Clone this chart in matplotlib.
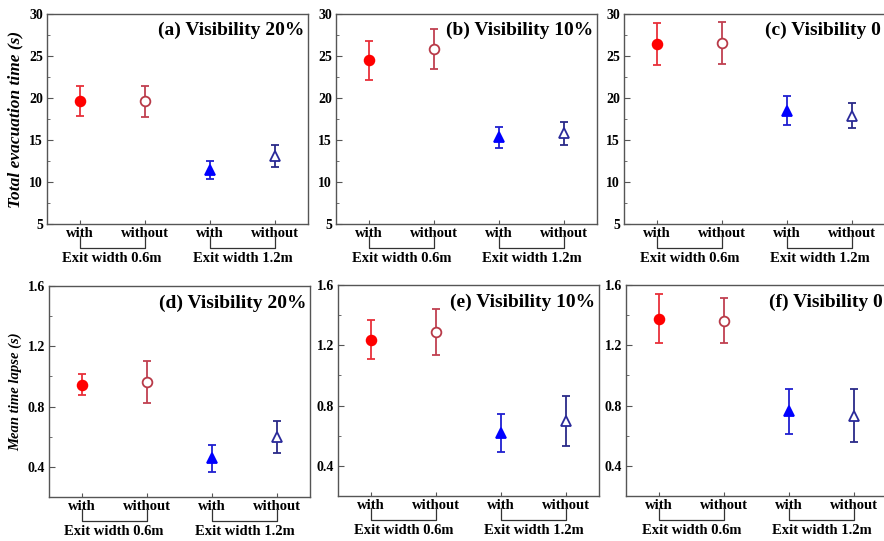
import matplotlib
matplotlib.use("Agg")
import matplotlib.pyplot as plt
from matplotlib.ticker import MultipleLocator

plt.rcParams['font.family'] = ['Liberation Serif', 'DejaVu Serif']
plt.rcParams['font.weight'] = 'bold'

# ---- data ----
categories = ["with", "without", "with", "without"]
groups = ["Exit width 0.6m", "Exit width 1.2m"]
titles = ["(a) Visibility 20%", "(b) Visibility 10%", "(c) Visibility 0",
          "(d) Visibility 20%", "(e) Visibility 10%", "(f) Visibility 0"]

# Total evacuation time (s): means and error half-widths [with 0.6, without 0.6, with 1.2, without 1.2]
evac_a = [19.6, 19.6, 11.4, 13.1]
evac_a_err = [1.8, 1.85, 1.05, 1.35]
evac_b = [24.5, 25.8, 15.3, 15.8]
evac_b_err = [2.3, 2.4, 1.3, 1.4]
evac_c = [26.4, 26.6, 18.5, 17.9]
evac_c_err = [2.5, 2.5, 1.7, 1.5]

# Mean time lapse (s)
lapse_d = [0.944, 0.962, 0.458, 0.600]
lapse_d_err = [0.07, 0.14, 0.09, 0.105]
lapse_e = [1.236, 1.290, 0.618, 0.698]
lapse_e_err = [0.13, 0.153, 0.126, 0.166]
lapse_f = [1.375, 1.363, 0.761, 0.732]
lapse_f_err = [0.163, 0.148, 0.148, 0.176]

# ---- styles ----
styles = [
    dict(marker='o', mfc='#ff0000', mec='#ff0000', ecolor='#e8303a', ms=7.0),
    dict(marker='o', mfc='white', mec='#b83a48', ecolor='#c04050', ms=7.0),
    dict(marker='^', mfc='#0000ff', mec='#0000ff', ecolor='#2020d0', ms=7.5),
    dict(marker='^', mfc='white', mec='#2a2a9a', ecolor='#2a2a88', ms=7.5),
]

fig = plt.figure(figsize=(8.84, 5.41), dpi=100)
W, H = 884, 541

def ax_at(left, top, bottom, width=261):
    return fig.add_axes([left / W, 1 - bottom / H, width / W, (bottom - top) / H])

axes = [
    ax_at(47, 14, 224), ax_at(336, 14, 224), ax_at(624, 14, 224),
    ax_at(49, 286, 497), ax_at(338, 285, 496), ax_at(626, 285, 496),
]

data = [(evac_a, evac_a_err), (evac_b, evac_b_err), (evac_c, evac_c_err),
        (lapse_d, lapse_d_err), (lapse_e, lapse_e_err), (lapse_f, lapse_f_err)]

xs = [1, 2, 3, 4]
for i, (ax, (vals, errs)) in enumerate(zip(axes, data)):
    for x, v, e, st in zip(xs, vals, errs, styles):
        ax.errorbar([x], [v], yerr=[e], fmt=st['marker'], ms=st['ms'],
                    mfc=st['mfc'], mec=st['mec'], mew=1.3,
                    ecolor=st['ecolor'], elinewidth=1.3, capsize=3, capthick=1.2,
                    zorder=3)
    ax.set_xlim(0.5, 4.5)
    if i < 3:
        ax.set_ylim(5, 30)
        ax.yaxis.set_major_locator(MultipleLocator(5))
        ax.yaxis.set_minor_locator(MultipleLocator(2.5))
        ax.set_yticklabels([f"{int(t)}" for t in ax.get_yticks()])
    else:
        ax.set_ylim(0.2, 1.6)
        ax.set_yticks([0.4, 0.8, 1.2, 1.6])
        ax.set_yticklabels(["0.4", "0.8", "1.2", "1.6"])
        ax.yaxis.set_minor_locator(MultipleLocator(0.2))
    ax.set_xticks(xs)
    ax.set_xticklabels(categories, fontsize=10.5, fontweight='bold')
    ax.tick_params(axis='x', direction='in', length=3, pad=2.5, color='#555555')
    ax.tick_params(axis='y', which='major', direction='in', length=4, pad=3,
                   labelsize=10, color='#555555')
    ax.tick_params(axis='y', which='minor', direction='in', length=2, color='#555555')
    for lab in ax.get_yticklabels():
        lab.set_fontweight('bold')
    for sp in ax.spines.values():
        sp.set_color('#555555')
        sp.set_linewidth(1.0)
    ax.text(0.985, 0.92, titles[i], transform=ax.transAxes, ha='right', va='center',
            fontsize=14, fontweight='bold')
    # group brackets
    trans = ax.get_xaxis_transform()
    for gx, glabel in zip([(1, 2), (3, 4)], groups):
        x0, x1 = gx
        ax.plot([x0, x0, x1, x1], [-0.055, -0.112, -0.112, -0.055], color='#333333',
                lw=0.9, transform=trans, clip_on=False)
        ax.text((x0 + x1) / 2, -0.163, glabel, transform=trans, ha='center', va='center',
                fontsize=10.5, fontweight='bold')

axes[0].set_ylabel("Total evacuation time (s)", fontsize=12.5, fontweight='bold',
                   fontstyle='italic', labelpad=4)
axes[3].set_ylabel("Mean time lapse (s)", fontsize=10.5, fontweight='bold',
                   fontstyle='italic', labelpad=4)

fig.savefig("out.png", dpi=100)
